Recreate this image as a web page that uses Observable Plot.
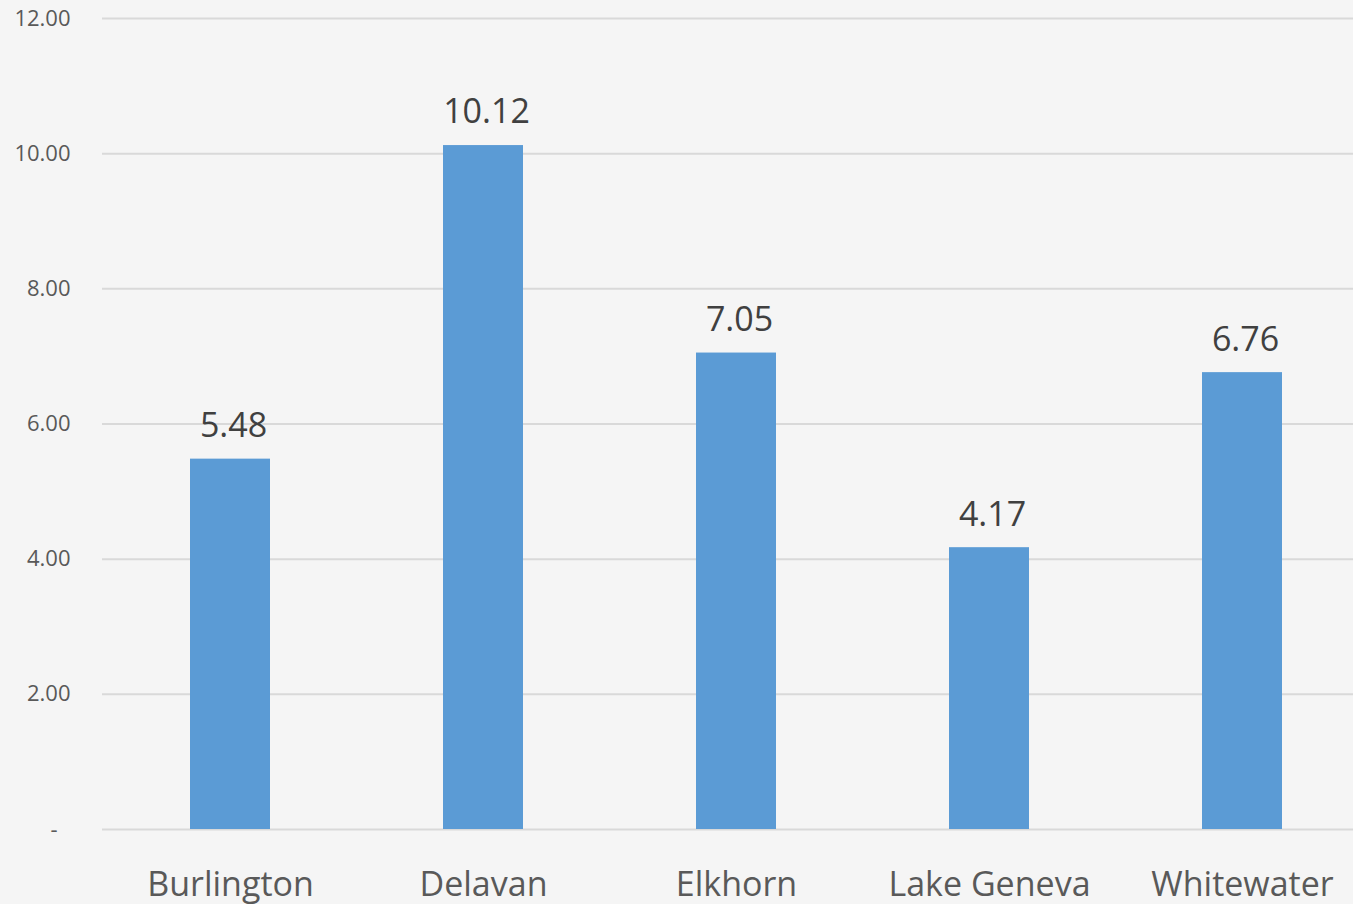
<!DOCTYPE html>
<html>
<head>
<meta charset="utf-8">
<script src="https://cdn.jsdelivr.net/npm/d3@7"></script>
<script src="https://cdn.jsdelivr.net/npm/@observablehq/plot@0.6"></script>
<style>
  html, body { margin: 0; padding: 0; background: #f5f5f5; }
  #chart svg { display: block; }
</style>
</head>
<body>
<div id="chart"></div>
<script>
const categories = ["Burlington", "Delavan", "Elkhorn", "Lake Geneva", "Whitewater"];
const values = [5.48, 10.12, 7.05, 4.17, 6.76];
const yTicks = [0, 2, 4, 6, 8, 10, 12];

const data = categories.map((c, i) => ({category: c, value: values[i]}));
const font = "'Open Sans', 'Noto Sans', sans-serif";

const chart = Plot.plot({
  width: 1353,
  height: 904,
  marginTop: 18,
  marginBottom: 75,
  marginLeft: 102,
  marginRight: 0,
  style: {background: "#f5f5f5", fontFamily: font},
  x: {domain: categories, range: [102.25, 1369.75], paddingInner: 0.685, paddingOuter: 0.3425, label: null},
  y: {domain: [0, 12], label: null},
  marks: [
    Plot.ruleY(yTicks, {stroke: "#d9d9d9", strokeWidth: 2}),
    Plot.axisY(yTicks.filter(d => d !== 0), {
      tickSize: 0, tickPadding: 32, fontSize: 22, fill: "#595959",
      tickFormat: d => d.toFixed(2), label: null
    }),
    Plot.axisY([0], {
      tickSize: 0, tickPadding: 45, fontSize: 22, fill: "#595959",
      tickFormat: () => "-", label: null
    }),
    Plot.barY(data, {x: "category", y: "value", fill: "#5b9bd5"}),
    Plot.text(data, {
      x: "category", y: "value", text: d => d.value.toFixed(2),
      lineAnchor: "middle", dy: -33, dx: 3, fontSize: 34, fill: "#404040"
    }),
    Plot.axisX({
      tickSize: 0, tickPadding: 42, fontSize: 34, fill: "#595959", label: null
    })
  ]
});
document.getElementById("chart").appendChild(chart);
</script>
</body>
</html>
